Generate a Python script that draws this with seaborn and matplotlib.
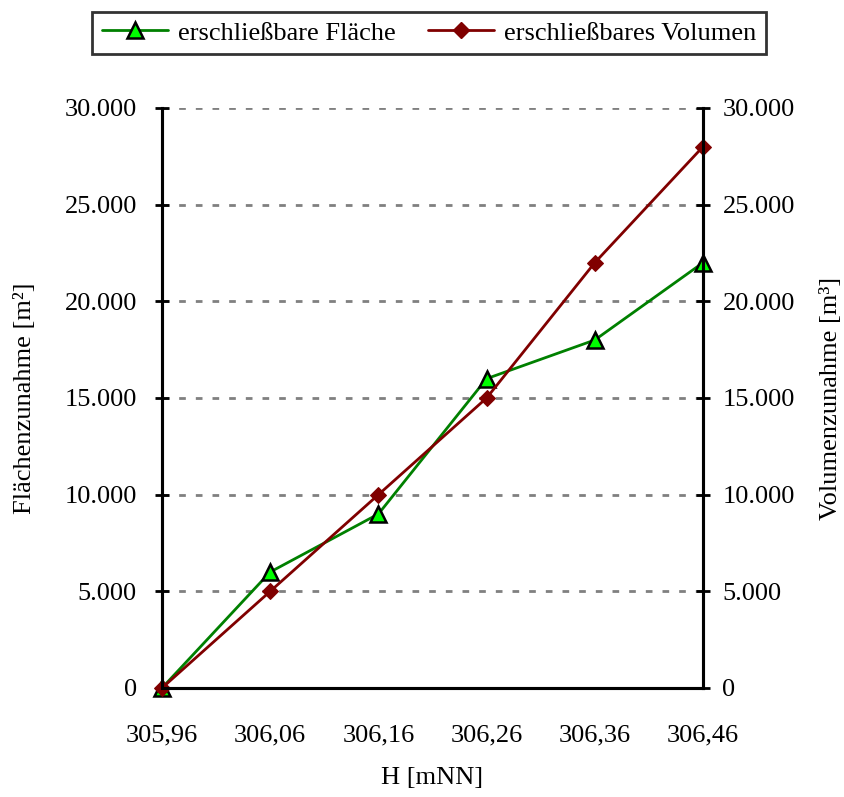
import matplotlib
matplotlib.use("Agg")
import matplotlib.pyplot as plt
import seaborn as sns
import pandas as pd
from matplotlib.ticker import FuncFormatter, MultipleLocator
from matplotlib.lines import Line2D

hoehe = ["305,96", "306,06", "306,16", "306,26", "306,36", "306,46"]
flaeche = [0, 6000, 9000, 16000, 18000, 22000]
volumen = [0, 5000, 10000, 15000, 22000, 28000]

sns.set_theme(style="white")
plt.rcParams["font.family"] = ["Liberation Serif", "DejaVu Serif"]
plt.rcParams["text.color"] = "black"
plt.rcParams["axes.labelcolor"] = "black"

df = pd.DataFrame({"pos": range(len(hoehe)), "flaeche": flaeche, "volumen": volumen})

fig = plt.figure(figsize=(8.45, 7.97), dpi=100)
x0, x1, y0, y1 = 162, 703, 688, 108
W, H = 845, 797
ax = fig.add_axes([x0/W, 1-y0/H, (x1-x0)/W, (y0-y1)/H])
ax2 = ax.twinx()

sns.lineplot(data=df, x="pos", y="flaeche", ax=ax, color="#008000", lw=2,
             marker="^", markersize=11, markerfacecolor="#00FF00",
             markeredgecolor="black", markeredgewidth=1.8)
sns.lineplot(data=df, x="pos", y="volumen", ax=ax2, color="#800000", lw=2,
             marker="D", markersize=8, markerfacecolor="#800000",
             markeredgecolor="#800000")

FS = 19
fmt = FuncFormatter(lambda v, p: f"{int(v):,}".replace(",", "."))
for a in (ax, ax2):
    a.set_ylim(0, 30000)
    a.set_xlim(0, 5)
    a.yaxis.set_major_locator(MultipleLocator(5000))
    a.yaxis.set_major_formatter(fmt)
    for s in a.spines.values():
        s.set_color("black")
        s.set_linewidth(2.2)
    a.spines["top"].set_visible(False)
    a.tick_params(direction="inout", length=10, width=2, labelsize=FS, colors="black")

ax.set_xticks(range(len(hoehe)))
ax.set_xticklabels(hoehe)
ax.tick_params(axis="x", pad=21)
ax.tick_params(axis="y", left=True, pad=13)
ax2.tick_params(axis="y", right=True, pad=9)
ax.yaxis.grid(True, color="#808080", linestyle=(0, (2.4, 3.6)), linewidth=2)
ax.set_axisbelow(True)

ax.set_xlabel("H [mNN]", fontsize=FS, va="center", color="black")
ax.xaxis.set_label_coords(0.5, (y0-778)/(y0-y1))
ax.set_ylabel("Flächenzunahme [m²]", fontsize=FS, va="center", rotation=90, color="black")
ax.yaxis.set_label_coords((25-x0)/(x1-x0), 0.5)
ax2.set_ylabel("Volumenzunahme [m³]", fontsize=FS, va="center", rotation=90, color="black")
ax2.yaxis.set_label_coords((831-x0)/(x1-x0), 0.5)

for a in (ax, ax2):
    for l in a.get_lines():
        l.set_clip_on(False)

handles = [
    Line2D([], [], color="#008000", lw=2, marker="^", markersize=11,
           markerfacecolor="#00FF00", markeredgecolor="black", markeredgewidth=1.8),
    Line2D([], [], color="#800000", lw=2, marker="D", markersize=8,
           markerfacecolor="#800000", markeredgecolor="#800000"),
]
leg = fig.legend(handles, ["erschließbare Fläche", "erschließbares Volumen"],
                 loc="center", bbox_to_anchor=(429/W, 1-33/H), ncol=2,
                 fontsize=FS, frameon=True, fancybox=False, handlelength=2.5,
                 columnspacing=1.2, handletextpad=0.4, borderpad=0.35)
leg.get_frame().set_edgecolor("black")
leg.get_frame().set_linewidth(2)
for t in leg.get_texts():
    t.set_color("black")

fig.savefig("out.png", dpi=100)
